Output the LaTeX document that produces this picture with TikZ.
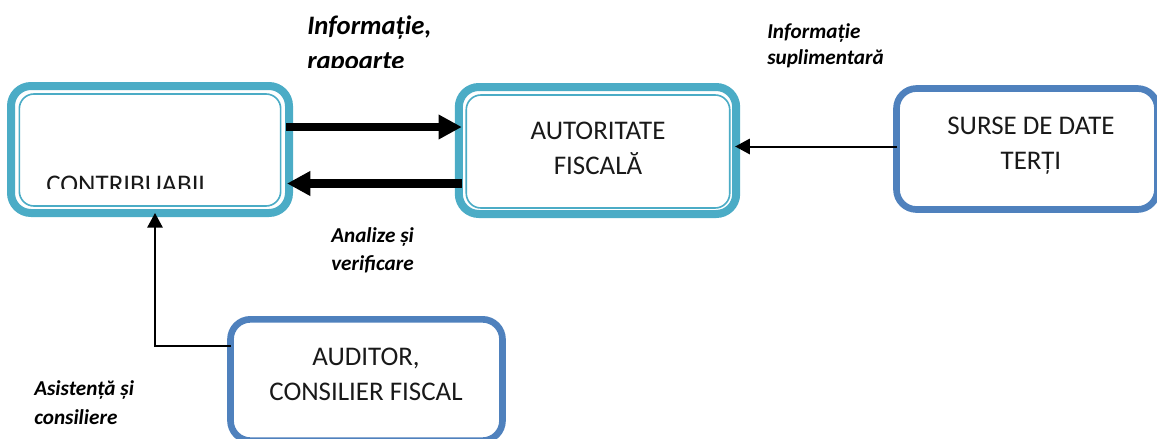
\documentclass[tikz,border=0pt]{standalone}
\usepackage{fontspec}
\setmainfont{Carlito}
\usetikzlibrary{arrows.meta,calc}
\definecolor{teal1}{HTML}{4BACC6}
\definecolor{blue1}{HTML}{4F81BD}
\tikzset{
  outerbox/.style={draw=teal1,line width=6pt,rounded corners=15pt,fill=white,outer sep=0pt,inner sep=0pt},
  innerbox/.style={draw=teal1,line width=1.2pt,rounded corners=11pt,outer sep=0pt,inner sep=0pt},
  sidebox/.style={draw=blue1,line width=5pt,rounded corners=15pt,fill=white,outer sep=0pt,inner sep=0pt},
  boxtext/.style={font=\fontsize{20.2}{20.2}\selectfont,anchor=base,inner sep=0pt,text=black!90},
  lab/.style={font=\fontsize{15.9}{15.9}\selectfont\bfseries\itshape,anchor=base west,inner sep=0pt},
  biglab/.style={font=\fontsize{20}{20}\selectfont\bfseries\itshape,anchor=base west,inner sep=0pt},
  heavy/.style={line width=6.2pt,-{Triangle[length=17.5pt,width=17.5pt]}},
  light/.style={line width=1.5pt,-{Triangle[length=11pt,width=11.5pt]}}
}
\begin{document}
\begin{tikzpicture}[x=0.75pt,y=-0.75pt]
\useasboundingbox (0,0) rectangle (1157,439);
% boxes
\node[outerbox,minimum width=208.5pt,minimum height=95.25pt] (c) at (150,149.5) {};
\node[innerbox,minimum width=196pt,minimum height=84pt] (ci) at (150,150) {};
\node[outerbox,minimum width=208pt,minimum height=95.25pt] (a) at (597.5,150.5) {};
\node[innerbox,minimum width=197.6pt,minimum height=84.75pt] (ai) at (598,151.5) {};
\node[sidebox,minimum width=195.75pt,minimum height=90.75pt] (s) at (1027,149) {};
\node[sidebox,minimum width=204pt,minimum height=91pt] (d) at (366.5,380) {};
% box texts
\node[boxtext] (at1) at (598,139) {AUTORITATE};
\node[boxtext] (at2) at (598,174) {FISCALĂ};
\node[boxtext] (st1) at (1031,134) {SURSE DE DATE};
\node[boxtext] (st2) at (1031,169) {TERȚI};
\node[boxtext] (dt1) at (366,365) {AUDITOR,};
\node[boxtext] (dt2) at (366,400) {CONSILIER FISCAL};
\begin{scope}
\clip (30,160) rectangle (260,188);
\node[boxtext,anchor=base west] (ct) at (46,193) {CONTRIBUABIL};
\end{scope}
% labels
\node[biglab] (l1) at (307,34) {Informație,};
\begin{scope}
\clip (290,40) rectangle (450,67);
\node[biglab] (l2) at (307,69) {rapoarte};
\end{scope}
\node[lab] (l3) at (767,38) {Informație};
\node[lab] (l4) at (767,64) {suplimentară};
\node[lab] (l5) at (331,242) {Analize și};
\node[lab] (l6) at (331,270.5) {verificare};
\node[lab] (l7) at (34,395.5) {Asistență și};
\node[lab] (l8) at (34,424) {consiliere};
% connectors
\draw[heavy] ([shift={(-3,127-149.5)}]c.east) -- ([shift={(3,127-150.5)}]a.west);
\draw[heavy] ([shift={(3,183.5-150.5)}]a.west) -- ([shift={(-2,183.5-149.5)}]c.east);
\draw[light] ([shift={(0,-2.5)}]s.west) -- ([shift={(-1,-4)}]a.east);
\draw[light] (d.west |- 0,346) -- (155,346) -- (155,213);
\end{tikzpicture}
\end{document}
